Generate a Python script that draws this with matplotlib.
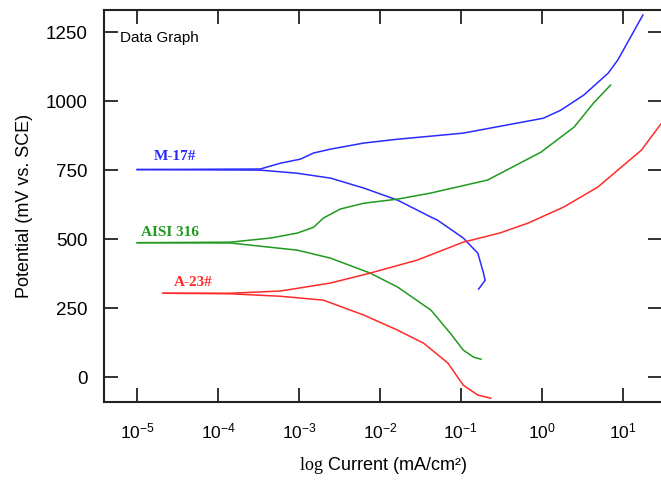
import numpy as np
import matplotlib
matplotlib.use("Agg")
import matplotlib.pyplot as plt

# log10 current (mA/cm2) and potential (mV vs SCE)
m17_anodic_logi = [-5, -3.48, -3.23, -2.98, -2.82, -2.61, -2.20, -1.78, -1.37, -0.97, 0.02, 0.235, 0.52, 0.82, 0.94, 1.25]
m17_anodic_e = [752, 754, 775, 790, 812, 826, 848, 862, 873, 884, 938, 967, 1022, 1101, 1149, 1312]
m17_cath_logi = [-5, -3.48, -3.03, -2.61, -2.20, -1.78, -1.37, -1.29, -0.97, -0.79, -0.72, -0.70, -0.78]
m17_cath_e = [752, 750, 739, 721, 685, 641, 580, 569, 504, 449, 377, 351, 319]

aisi_anodic_logi = [-5, -3.85, -3.35, -3.02, -2.82, -2.70, -2.49, -2.20, -1.78, -1.37, -0.67, -0.01, 0.40, 0.64, 0.85]
aisi_anodic_e = [487, 489, 504, 522, 543, 576, 609, 630, 645, 667, 714, 815, 906, 993, 1058]
aisi_cath_logi = [-5, -3.85, -3.02, -2.61, -2.12, -1.78, -1.37, -1.13, -0.97, -0.84, -0.75]
aisi_cath_e = [487, 486, 460, 431, 377, 326, 243, 159, 98, 72, 65]

a23_anodic_logi = [-4.68, -3.85, -3.23, -2.61, -2.12, -1.54, -0.97, -0.52, -0.17, 0.27, 0.69, 1.23, 1.49]
a23_anodic_e = [304, 304, 312, 341, 377, 424, 489, 522, 558, 616, 688, 822, 924]
a23_cath_logi = [-4.68, -3.85, -3.23, -2.70, -2.20, -1.78, -1.46, -1.16, -0.97, -0.79, -0.63]
a23_cath_e = [304, 302, 293, 279, 225, 170, 123, 51, -29, -65, -76]

series_names = ["M-17#", "AISI 316", "A-23#"]
yticks = [0, 250, 500, 750, 1000, 1250]
xtick_exps = [-5, -4, -3, -2, -1, 0, 1]

blue = "#2b2bff"
green = "#1f9a1f"
red = "#ff2b2b"

plt.rcParams['font.family'] = ['Liberation Sans', 'DejaVu Sans']
plt.rcParams['mathtext.fontset'] = 'custom'
plt.rcParams['mathtext.rm'] = 'Liberation Serif'
plt.rcParams['mathtext.sf'] = 'Liberation Sans'
plt.rcParams['mathtext.it'] = 'Liberation Sans'

fig = plt.figure(figsize=(6.61, 4.80), dpi=100)
ax = fig.add_axes([104/661, 1 - 402/480, 1 - 104/661 + 0.002, (402 - 10)/480])

def pl(lx, e, c):
    ax.plot(10 ** np.array(lx), e, color=c, lw=1.1)

pl(m17_anodic_logi, m17_anodic_e, blue)
pl(m17_cath_logi, m17_cath_e, blue)
pl(aisi_anodic_logi, aisi_anodic_e, green)
pl(aisi_cath_logi, aisi_cath_e, green)
pl(a23_anodic_logi, a23_anodic_e, red)
pl(a23_cath_logi, a23_cath_e, red)

ax.set_xscale('log')
ax.set_xlim(10 ** -5.41, 10 ** 1.49)
ax.set_ylim(-90, 1330)
ax.set_yticks(yticks)
ax.set_yticklabels([str(v) for v in yticks], fontsize=13.5)
ax.set_xticks([10.0 ** e for e in xtick_exps])
ax.set_xticklabels([r"$\mathsf{10}^{\mathsf{%d}}$" % e for e in xtick_exps], fontsize=12.5)
ax.xaxis.set_minor_locator(matplotlib.ticker.NullLocator())
ax.tick_params(direction='in', length=10, width=1.3, color='#222222',
               top=True, right=True)
ax.tick_params(axis='y', pad=12)
ax.tick_params(axis='x', pad=14)
for s in ax.spines.values():
    s.set_linewidth(1.5)
    s.set_color('#222222')

ax.set_ylabel("Potential (mV vs. SCE)", fontsize=13, labelpad=9)
ax.set_xlabel(r"$\mathrm{log}$ Current (mA/cm²)", fontsize=13, labelpad=10)

ax.text(0.028, 0.929, "Data Graph", transform=ax.transAxes, fontsize=11, va='center')

lab_font = dict(family='Liberation Serif', weight='bold', fontsize=11)
ax.text(10 ** -4.8, 785, series_names[0], color=blue, **lab_font)
ax.text(10 ** -4.95, 510, series_names[1], color=green, **lab_font)
ax.text(10 ** -4.55, 330, series_names[2], color=red, **lab_font)

fig.savefig("out.png", dpi=100)
